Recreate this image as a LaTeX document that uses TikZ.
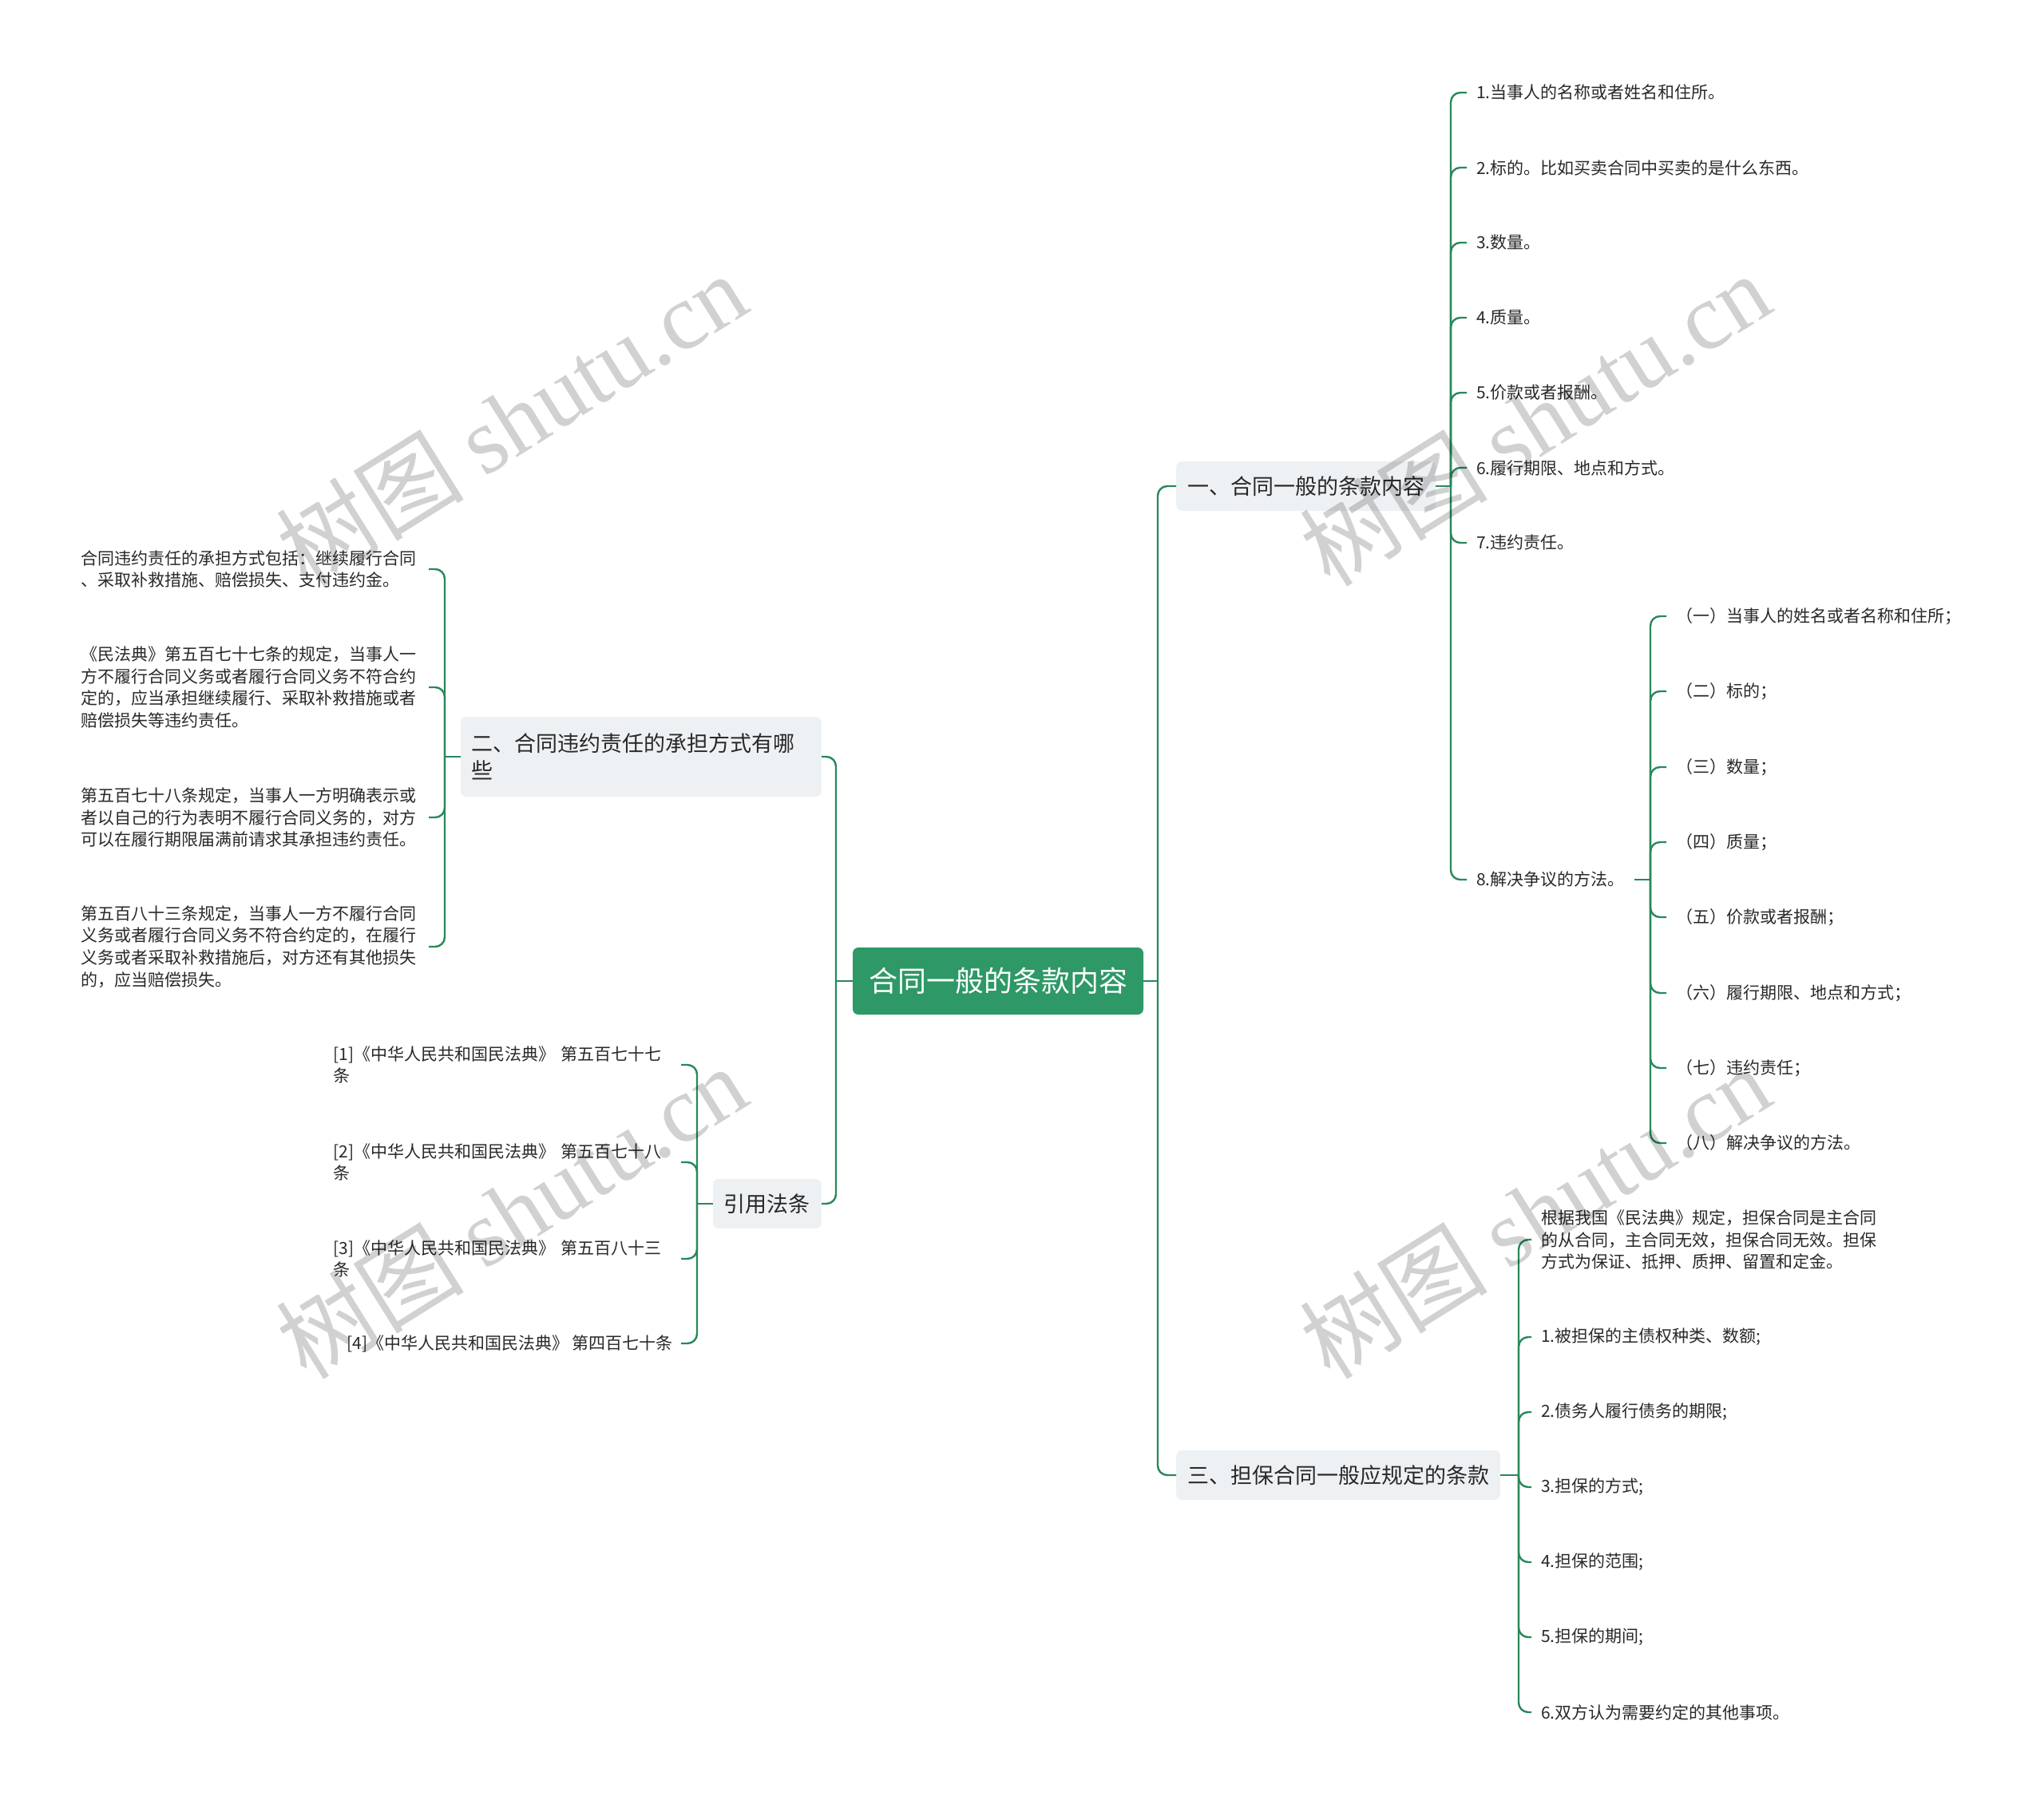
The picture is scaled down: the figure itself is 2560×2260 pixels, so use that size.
\documentclass[tikz,border=0pt]{standalone}
\usepackage{fontspec}
\setmainfont{Noto Sans CJK SC}
\newfontfamily\wmlatin{Liberation Serif}
\definecolor{rootG}{RGB}{46,152,102}
\definecolor{lineG}{RGB}{40,136,90}
\definecolor{boxF}{RGB}{238,241,244}
\definecolor{txt}{RGB}{40,40,40}
\tikzset{
  conn/.style={draw=lineG, line width=2.4pt},
  rc/.style={rounded corners=12pt},
  rootbox/.style={fill=rootG, text=white, rounded corners=7pt, font=\fontsize{36}{42}\selectfont, minimum width=364pt, minimum height=84pt, inner sep=0pt},
  mainbox/.style={fill=boxF, rounded corners=7pt, text=txt, font=\fontsize{27}{34}\selectfont, inner xsep=14pt, inner ysep=0pt, minimum height=62pt},
  leaf/.style={text=txt, font=\fontsize{21}{27.7}\selectfont, inner xsep=12pt, inner ysep=4pt},
  leafw/.style={leaf, inner xsep=10pt, text width=425pt, align=left},
  wm/.style={text=black, text opacity=0.18, font=\fontsize{118}{124}\selectfont, rotate=32}
}
\begin{document}
\begin{tikzpicture}[x=1pt,y=-1pt]
\useasboundingbox (0,0) rectangle (2560,2260);

% root
\node[rootbox] (root) at (1250,1229) {合同一般的条款内容};

% trunk coordinates
\coordinate (tR) at (1450,0);
\coordinate (tL) at (1047,0);
\coordinate (t1) at (1817,0);
\coordinate (t8) at (2067,0);
\coordinate (t3) at (1902,0);
\coordinate (t2) at (557,0);
\coordinate (t4) at (873,0);

% main branches
\node[mainbox, anchor=west] (b1) at (1473,609) {一、合同一般的条款内容};
\node[mainbox, anchor=west] (b3) at (1473,1848) {三、担保合同一般应规定的条款};
\node[mainbox, anchor=east, text width=424pt, align=left, minimum height=100pt] (b2) at (1029,948) {二、合同违约责任的承担方式有哪\\些};
\node[mainbox, anchor=east] (r) at (1029,1508) {引用法条};

% branch 1 leaves
\node[leaf, anchor=west] (l1) at (1837,116) {1.当事人的名称或者姓名和住所。};
\node[leaf, anchor=west] (l2) at (1837,210) {2.标的。比如买卖合同中买卖的是什么东西。};
\node[leaf, anchor=west] (l3) at (1837,304) {3.数量。};
\node[leaf, anchor=west] (l4) at (1837,398) {4.质量。};
\node[leaf, anchor=west] (l5) at (1837,492) {5.价款或者报酬。};
\node[leaf, anchor=west] (l6) at (1837,586) {6.履行期限、地点和方式。};
\node[leaf, anchor=west] (l7) at (1837,680) {7.违约责任。};
\node[leaf, anchor=west] (l8) at (1837,1102) {8.解决争议的方法。};

% sub leaves of 8
\node[leaf, anchor=west] (s1) at (2087,772) {（一）当事人的姓名或者名称和住所；};
\node[leaf, anchor=west] (s2) at (2087,866) {（二）标的；};
\node[leaf, anchor=west] (s3) at (2087,961) {（三）数量；};
\node[leaf, anchor=west] (s4) at (2087,1055) {（四）质量；};
\node[leaf, anchor=west] (s5) at (2087,1149) {（五）价款或者报酬；};
\node[leaf, anchor=west] (s6) at (2087,1244) {（六）履行期限、地点和方式；};
\node[leaf, anchor=west] (s7) at (2087,1338) {（七）违约责任；};
\node[leaf, anchor=west] (s8) at (2087,1432) {（八）解决争议的方法。};

% branch 3 leaves
\node[leafw, anchor=west, inner xsep=12pt] (g0) at (1918,1553) {根据我国《民法典》规定，担保合同是主合同\\的从合同，主合同无效，担保合同无效。担保\\方式为保证、抵押、质押、留置和定金。};
\node[leaf, anchor=west] (g1) at (1918,1675) {1.被担保的主债权种类、数额;};
\node[leaf, anchor=west] (g2) at (1918,1769) {2.债务人履行债务的期限;};
\node[leaf, anchor=west] (g3) at (1918,1863) {3.担保的方式;};
\node[leaf, anchor=west] (g4) at (1918,1957) {4.担保的范围;};
\node[leaf, anchor=west] (g5) at (1918,2051) {5.担保的期间;};
\node[leaf, anchor=west] (g6) at (1918,2145) {6.双方认为需要约定的其他事项。};

% branch 2 leaves
\node[leafw, anchor=east] (a1) at (537,713) {合同违约责任的承担方式包括：继续履行合同\\、采取补救措施、赔偿损失、支付违约金。};
\node[leafw, anchor=east] (a2) at (537,861) {《民法典》第五百七十七条的规定，当事人一\\方不履行合同义务或者履行合同义务不符合约\\定的，应当承担继续履行、采取补救措施或者\\赔偿损失等违约责任。};
\node[leafw, anchor=east] (a3) at (537,1024) {第五百七十八条规定，当事人一方明确表示或\\者以自己的行为表明不履行合同义务的，对方\\可以在履行期限届满前请求其承担违约责任。};
\node[leafw, anchor=east] (a4) at (537,1186) {第五百八十三条规定，当事人一方不履行合同\\义务或者履行合同义务不符合约定的，在履行\\义务或者采取补救措施后，对方还有其他损失\\的，应当赔偿损失。};

% citation leaves
\node[leafw, anchor=east] (f1) at (853,1334) {[1]《中华人民共和国民法典》 第五百七十七\\条};
\node[leafw, anchor=east] (f2) at (853,1456) {[2]《中华人民共和国民法典》 第五百七十八\\条};
\node[leafw, anchor=east] (f3) at (853,1577) {[3]《中华人民共和国民法典》 第五百八十三\\条};
\node[leaf, anchor=east, inner xsep=10pt] (f4) at (853,1683) {[4]《中华人民共和国民法典》 第四百七十条};

% connectors: root
\draw[conn] (root.east) -- (root.east -| tR);
\draw[conn,rc] (root.east -| tR) |- (b1.west);
\draw[conn,rc] (root.east -| tR) |- (b3.west);
\draw[conn] (root.west) -- (root.west -| tL);
\draw[conn,rc] (root.west -| tL) |- (b2.east);
\draw[conn,rc] (root.west -| tL) |- (r.east);

% branch 1
\draw[conn] (b1.east) -- (b1.east -| t1);
\foreach \n in {l1,l2,l3,l4,l5,l6,l7,l8}
  \draw[conn,rc] (b1.east -| t1) |- (\n.west);
% item 8
\draw[conn] (l8.east) -- (l8.east -| t8);
\foreach \n in {s1,s2,s3,s4,s5,s6,s7,s8}
  \draw[conn,rc] (l8.east -| t8) |- (\n.west);
% branch 3
\draw[conn] (b3.east) -- (b3.east -| t3);
\foreach \n in {g0,g1,g2,g3,g4,g5,g6}
  \draw[conn,rc] (b3.east -| t3) |- (\n.west);
% branch 2
\draw[conn] (b2.west) -- (b2.west -| t2);
\foreach \n in {a1,a2,a3,a4}
  \draw[conn,rc] (b2.west -| t2) |- (\n.east);
% citations
\draw[conn] (r.west) -- (r.west -| t4);
\foreach \n in {f1,f2,f3,f4}
  \draw[conn,rc] (r.west -| t4) |- (\n.east);

% watermarks
\node[wm] (w1) at (640,525) {树图 {\wmlatin shutu.cn}};
\node[wm] (w2) at (1922,525) {树图 {\wmlatin shutu.cn}};
\node[wm] (w3) at (640,1518) {树图 {\wmlatin shutu.cn}};
\node[wm] (w4) at (1922,1518) {树图 {\wmlatin shutu.cn}};
\end{tikzpicture}
\end{document}
